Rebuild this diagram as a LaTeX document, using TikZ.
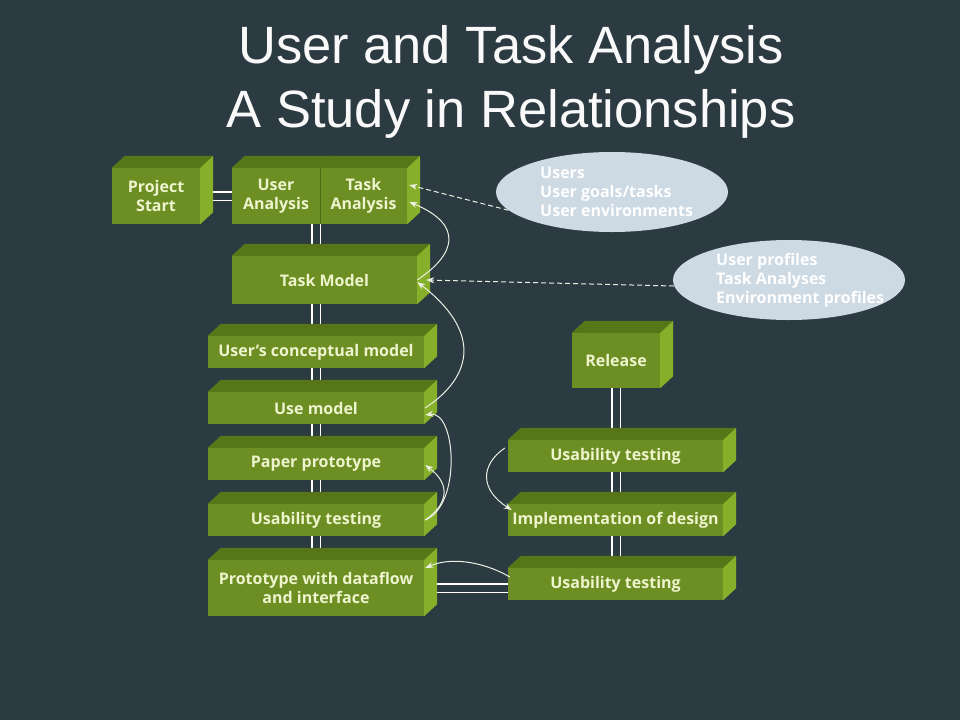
\documentclass[tikz,border=0pt]{standalone}
\usepackage{fontspec}
\setmainfont{Open Sans}
\newfontfamily\titlefont{Liberation Sans}
\usepackage{tikz}
\usetikzlibrary{arrows.meta,calc,shapes.geometric,positioning}
\definecolor{slateBg}{RGB}{44,58,66}
\definecolor{boxFront}{RGB}{108,142,34}
\definecolor{boxTop}{RGB}{86,118,24}
\definecolor{boxSide}{RGB}{134,176,42}
\definecolor{boxText}{RGB}{238,244,206}
\definecolor{cloudFill}{RGB}{205,217,227}
\definecolor{wireWhite}{RGB}{236,240,226}

\pgfdeclarelayer{back}
\pgfdeclarelayer{wires}
\pgfsetlayers{back,wires,main}

% name, x, y, width, height, text
\newcommand{\cubenode}[6]{%
  \node[blk,minimum width=#4pt,minimum height=#5pt] (#1) at (#2,#3) {#6};
  \fill[boxTop] (#1.north west) -- ++(13,-12) -- ($(#1.north east)+(13,-12)$) -- (#1.north east) -- cycle;
  \fill[boxSide] (#1.north east) -- ++(13,-12) -- ($(#1.south east)+(13,-12)$) -- (#1.south east) -- cycle;
}

\begin{document}
\begin{tikzpicture}[
  x=1pt,y=-1pt,
  blk/.style={rectangle,fill=boxFront,text=boxText,inner sep=0pt,align=center,
              font=\bfseries\fontsize{16}{19}\selectfont},
  cloud/.style={ellipse,fill=cloudFill,inner sep=0pt,minimum width=232pt,minimum height=80pt},
  cloudtxt/.style={anchor=west,align=left,text=white,inner sep=0pt,
                   font=\bfseries\fontsize{16}{19}\selectfont},
  ttl/.style={anchor=base,text=white!95!gray,inner sep=0pt,font=\titlefont\fontsize{52.5}{64}\selectfont},
  dbl/.style={draw=white,double=slateBg,double distance=7pt,line width=1.1pt},
  arr/.style={-{Stealth[length=8pt,width=6pt]},draw=wireWhite,line width=1pt},
  dsh/.style={-{Stealth[length=8pt,width=6pt]},draw=wireWhite,line width=1pt,dash pattern=on 5pt off 3pt}
]
  \begin{pgfonlayer}{back}
    \fill[slateBg] (0,0) rectangle (960,720);
  \end{pgfonlayer}
  % title
  \node[ttl] (title1) at (511,63)  {User and Task Analysis};
  \node[ttl] (title2) at (511,127) {A Study in Relationships};
  % analysis boxes
  \cubenode{PS}{156}{196}{88}{56}{Project\\Start}
  \cubenode{UA}{276}{196}{88}{56}{User\\Analysis}
  \cubenode{TA}{363.5}{196}{87}{56}{Task\\Analysis}
  \draw[boxTop,line width=0.6pt] (TA.north west) -- ++(13,-12);
  \draw[boxTop!90!black,line width=0.5pt] (TA.north west) -- (TA.south west);
  \cubenode{TM}{324.5}{280}{185}{48}{Task Model}
  % design column
  \cubenode{UCM}{316}{352}{216}{32}{User’s conceptual model}
  \cubenode{UM}{316}{408}{216}{32}{Use model}
  \cubenode{PP}{316}{464}{216}{32}{Paper prototype}
  \cubenode{UT}{316}{520}{216}{32}{Usability testing}
  \cubenode{PR}{316}{588}{216}{56}{Prototype with dataflow\\and interface}
  % build column
  \cubenode{REL}{616}{360.5}{88}{55}{Release}
  \cubenode{UTR}{615.5}{456}{215}{32}{Usability testing}
  \cubenode{IMP}{615.5}{520}{215}{32}{Implementation of design}
  \cubenode{UTB}{615.5}{584}{215}{32}{Usability testing}
  % inputs
  \node[cloud] (E1) at (612,192) {};
  \node[cloudtxt] (T1) at (540,192) {Users\\User goals/tasks\\User environments};
  \node[cloud] (E2) at (789,280) {};
  \node[cloudtxt] (T2) at (716,280) {User profiles\\Task Analyses\\Environment profiles};
  % ---- links behind the boxes
  \begin{pgfonlayer}{wires}
    \draw[dbl] (PS.east) -- (UA.west);
    \draw[dbl] (UCM.north |- UA.south) -- (UCM.north |- PR.south);
    \draw[dbl] (REL.south) -- (REL.south |- UTB.south);
    \draw[dbl] (PR.east) -- (PR.east -| UTB.west);
  \end{pgfonlayer}
  % ---- dashed inputs
  \draw[dsh] (E1.190) -- ($(TA.east)+(2,-11)$);
  \draw[dsh] (E2.183) -- ($(TM.east)+(9,0)$);
  % ---- feedback curves
  \draw[arr] (TM.east) .. controls (455,255) and (465,225) .. ($(TA.east)+(2,6)$);
  \draw[arr] ($(UM.east)+(1,0)$) .. controls (475,375) and (480,330) .. ($(TM.east)+(0,2)$);
  \draw[arr] ($(UT.east)+(1,0)$) .. controls (462,505) and (456,410) .. ($(UM.east)+(1,7)$);
  \draw[arr] ($(UT.east)+(1,0)$) .. controls (447,505) and (452,485) .. ($(PP.east)+(1,1)$);
  \draw[arr] ($(UTR.west)+(-3,-8)$) .. controls (480,465) and (480,490) .. ($(IMP.west)+(4,-10)$);
  \draw[arr] ($(UTB.west)+(2,-7)$) .. controls (490,565) and (455,555) .. ($(PR.east)+(1,-20)$);
\end{tikzpicture}
\end{document}
